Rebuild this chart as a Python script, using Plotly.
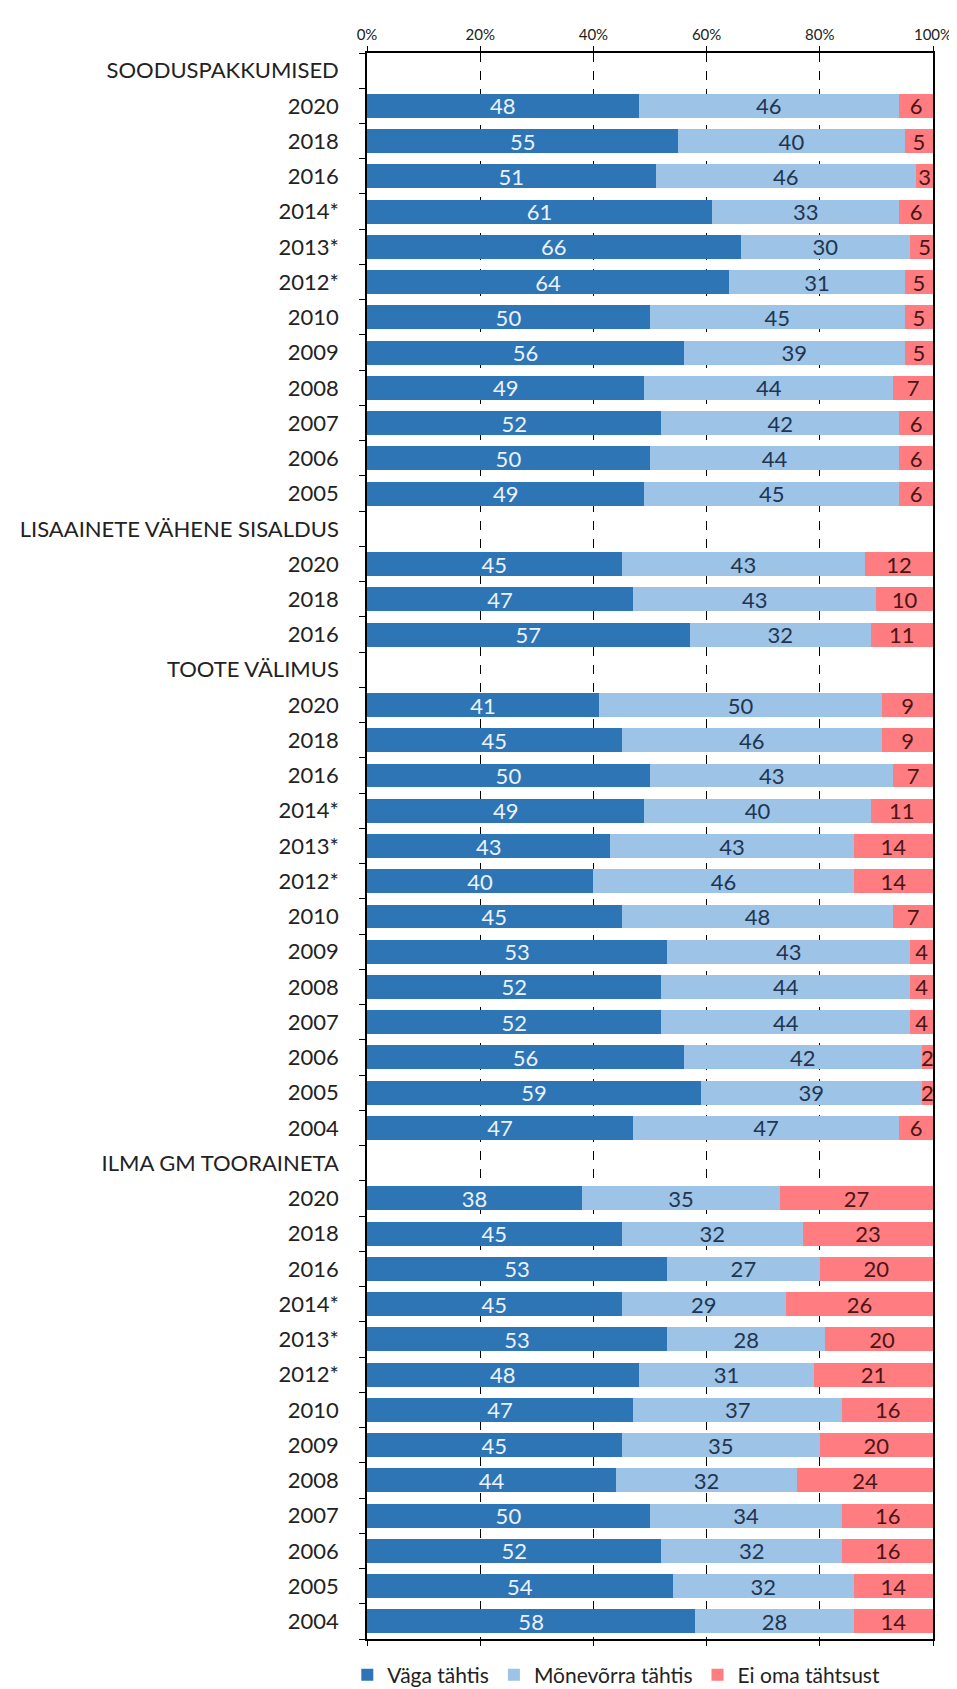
import plotly.graph_objects as go

categories = [
    "SOODUSPAKKUMISED", "2020", "2018", "2016", "2014*", "2013*", "2012*", "2010", "2009", "2008", "2007", "2006", "2005",
    "LISAAINETE VÄHENE SISALDUS", "2020", "2018", "2016",
    "TOOTE VÄLIMUS", "2020", "2018", "2016", "2014*", "2013*", "2012*", "2010", "2009", "2008", "2007", "2006", "2005", "2004",
    "ILMA GM TOORAINETA", "2020", "2018", "2016", "2014*", "2013*", "2012*", "2010", "2009", "2008", "2007", "2006", "2005", "2004",
]

vaga_tahtis = [
    None, 48, 55, 51, 61, 66, 64, 50, 56, 49, 52, 50, 49,
    None, 45, 47, 57,
    None, 41, 45, 50, 49, 43, 40, 45, 53, 52, 52, 56, 59, 47,
    None, 38, 45, 53, 45, 53, 48, 47, 45, 44, 50, 52, 54, 58,
]
monevorra_tahtis = [
    None, 46, 40, 46, 33, 30, 31, 45, 39, 44, 42, 44, 45,
    None, 43, 43, 32,
    None, 50, 46, 43, 40, 43, 46, 48, 43, 44, 44, 42, 39, 47,
    None, 35, 32, 27, 29, 28, 31, 37, 35, 32, 34, 32, 32, 28,
]
ei_oma_tahtsust = [
    None, 6, 5, 3, 6, 5, 5, 5, 5, 7, 6, 6, 6,
    None, 12, 10, 11,
    None, 9, 9, 7, 11, 14, 14, 7, 4, 4, 4, 2, 2, 6,
    None, 27, 23, 20, 26, 20, 21, 16, 20, 24, 16, 16, 14, 14,
]

series_names = ["Väga tähtis", "Mõnevõrra tähtis", "Ei oma tähtsust"]
series_values = [vaga_tahtis, monevorra_tahtis, ei_oma_tahtsust]
series_colors = ["#2E75B6", "#9DC3E6", "#FF7C80"]
text_colors = ["#EAF2FB", "#1F3550", "#4A1515"]

x_ticks = [0, 20, 40, 60, 80, 100]

positions = list(range(len(categories)))
FONT = "Lato"

# the page body adds an 8px margin, so the figure is sized to fit inside the window
W, H = 949, 1681

fig = go.Figure()
for name, vals, col, tcol in zip(series_names, series_values, series_colors, text_colors):
    fig.add_trace(go.Bar(
        y=positions, x=vals, name=name, orientation="h",
        marker=dict(color=col, line=dict(width=0)),
        text=[("" if v is None else str(v)) for v in vals],
        textposition="inside", insidetextanchor="middle", textangle=0,
        textfont=dict(family=FONT, size=22, color=tcol),
        cliponaxis=True,
        hoverinfo="skip",
    ))

fig.update_layout(
    width=W, height=H,
    barmode="stack", bargap=0.32,
    plot_bgcolor="white", paper_bgcolor="white",
    margin=dict(l=359, r=24, t=45, b=50, pad=0, autoexpand=False),
    font=dict(family=FONT, size=22, color="#222222"),
    uniformtext=dict(minsize=22, mode="show"),
    legend=dict(orientation="h", xref="container", yref="container",
                x=0.641, xanchor="center", y=1 - 1667 / H, yanchor="middle",
                font=dict(family=FONT, size=21, color="#222222"),
                itemwidth=30, traceorder="normal", tracegroupgap=0),
)

fig.update_xaxes(
    side="top", range=[0, 100], tickvals=x_ticks, ticktext=[f"{t}%" for t in x_ticks],
    tickfont=dict(family=FONT, size=15, color="#222222"),
    showline=True, linecolor="black", linewidth=1.5, mirror="ticks",
    ticks="outside", ticklen=5, tickcolor="black",
    showgrid=True, gridcolor="black", gridwidth=1, griddash="dash",
    zeroline=False, fixedrange=True, automargin=False,
)
fig.update_yaxes(
    range=[len(categories) - 0.5, -0.5], tickvals=positions, ticktext=categories,
    tickfont=dict(family=FONT, size=22, color="#222222"),
    showline=True, linecolor="black", linewidth=1.5, mirror=True,
    ticks="", showgrid=False, zeroline=False, ticklabelstandoff=22,
    minor=dict(tick0=0.5, dtick=1, ticks="outside", ticklen=6, tickcolor="black", showgrid=False),
    fixedrange=True, automargin=False,
)

fig.write_html("out.html")
